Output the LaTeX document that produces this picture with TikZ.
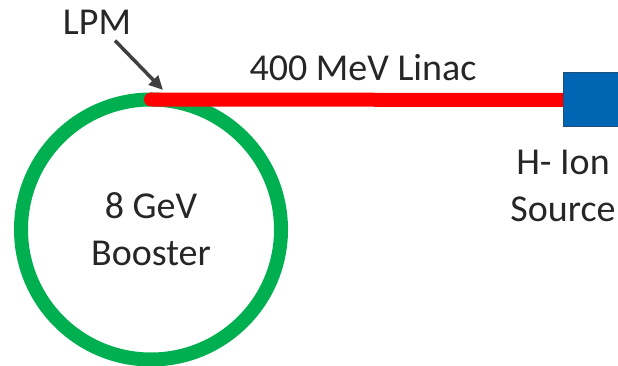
\documentclass[tikz,border=0pt]{standalone}
\usepackage{fontspec}
\setmainfont{Carlito}
\usepackage{xcolor}
\usetikzlibrary{arrows.meta,positioning,backgrounds}
\definecolor{ringgreen}{HTML}{00B050}
\definecolor{linacred}{HTML}{FF0000}
\definecolor{srcblue}{HTML}{0066B3}
\definecolor{srcedge}{HTML}{1F4E79}
\definecolor{pointgray}{HTML}{404040}

\begin{document}
\begin{tikzpicture}[
  x=1pt,y=-1pt,
  every node/.style={font=\fontsize{38}{47}\selectfont,text=black!85},
  ring/.style={circle,draw=ringgreen,line width=14pt,minimum size=260pt,
               outer sep=0pt,align=center},
  beam/.style={draw=linacred,line width=14pt,line cap=round},
  srcbox/.style={draw=srcedge,fill=srcblue,line width=1pt,minimum width=62pt,
                 minimum height=54pt,outer sep=0pt},
  pointer/.style={-{Triangle[length=14pt,width=13pt]},line width=3.5pt,draw=pointgray}
]
\useasboundingbox (0,0) rectangle (618,366);
\node[srcbox] (source) at (594,100) {};
\begin{scope}[on background layer]
\node[ring] (booster) at (151,229.5) {8 GeV\\Booster};
\draw[beam] (booster.north) -- (source.center);
\end{scope}
\node (lpm) at (97,22) {LPM};
\coordinate (lpmtip) at (163,90);
\draw[pointer,shorten <=4pt] (lpm) -- (lpmtip);
\node (linac) at (363,68) {400 MeV Linac};
\node[align=center] (srclabel) at (563,186) {H- Ion\\Source};
\end{tikzpicture}
\end{document}
